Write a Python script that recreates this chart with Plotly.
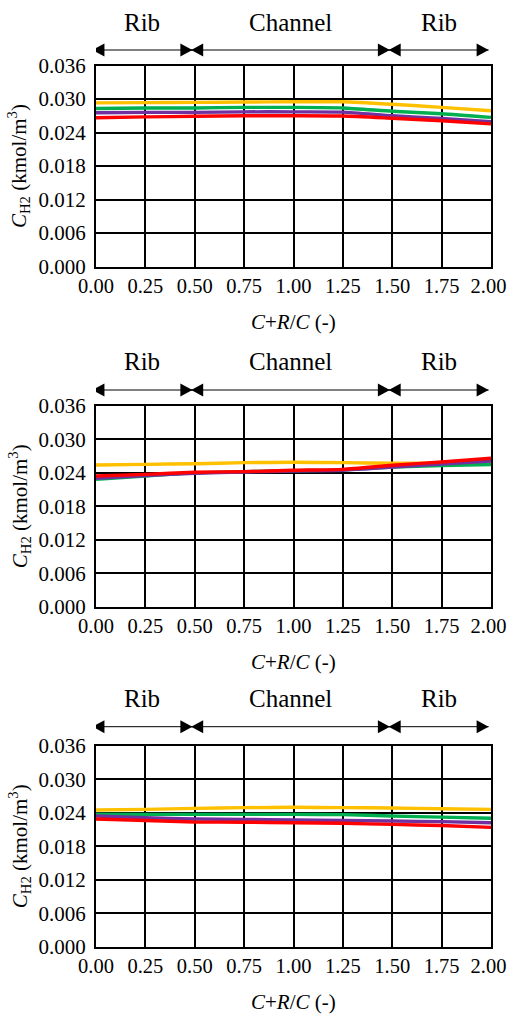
import plotly.graph_objects as go

# Dimensionless position across rib / channel / rib
x_pos = [0.0, 0.25, 0.5, 0.75, 1.0, 1.25, 1.5, 1.75, 2.0]

# Hydrogen concentration (kmol/m3), one dict per panel (top -> bottom)
panel1 = {
    "case_1": [0.0293, 0.02935, 0.0294, 0.02945, 0.0295, 0.0295, 0.02905, 0.0285, 0.0279],
    "case_2": [0.0283, 0.0284, 0.0284, 0.0285, 0.0285, 0.0284, 0.0278, 0.02735, 0.0267],
    "case_3": [0.02755, 0.0276, 0.0276, 0.0277, 0.0277, 0.02765, 0.0270, 0.0265, 0.02595],
    "case_4": [0.02665, 0.0268, 0.0269, 0.0270, 0.0270, 0.02695, 0.02655, 0.0261, 0.02555],
}
panel2 = {
    "case_1": [0.02538, 0.0255, 0.0256, 0.0258, 0.02586, 0.0258, 0.02568, 0.0257, 0.0257],
    "case_2": [0.02282, 0.0234, 0.02396, 0.0242, 0.02437, 0.0245, 0.0250, 0.0253, 0.02547],
    "case_3": [0.0230, 0.0235, 0.0239, 0.0241, 0.0243, 0.02445, 0.0250, 0.02556, 0.0261],
    "case_4": [0.02341, 0.0237, 0.02407, 0.0242, 0.02443, 0.0246, 0.02533, 0.02592, 0.02658],
}
panel3 = {
    "case_1": [0.02448, 0.0246, 0.02478, 0.0249, 0.02497, 0.0249, 0.02485, 0.0247, 0.0246],
    "case_2": [0.02371, 0.0237, 0.0237, 0.0237, 0.0237, 0.02365, 0.0234, 0.0232, 0.0230],
    "case_3": [0.0234, 0.0231, 0.02287, 0.0228, 0.02269, 0.0226, 0.0225, 0.0224, 0.0222],
    "case_4": [0.02287, 0.0226, 0.02233, 0.0223, 0.0222, 0.0221, 0.0219, 0.0217, 0.02138],
}
panels = [panel1, panel2, panel3]

series_colors = {"case_1": "#FFC000", "case_2": "#00B050", "case_3": "#7030A0", "case_4": "#FF0000"}

# Flow-field regions along the x axis
region_bounds = [0.0, 0.5, 1.5, 2.0]
region_names = ["Rib", "Channel", "Rib"]

y_ticks = [0.000, 0.006, 0.012, 0.018, 0.024, 0.030, 0.036]
x_ticks = [0.00, 0.25, 0.50, 0.75, 1.00, 1.25, 1.50, 1.75, 2.00]

W, H = 507, 1014
FONT = "Liberation Serif, Times New Roman, serif"

# plot-area geometry in pixels
plot_left, plot_right = 96, 491
panel_tops = [65.5, 405.7, 745.7]
panel_h = 201.0
arrow_gap = [15.5, 15.7, 19.0]
label_gap = [43.5, 44.0, 47.7]

# x tick text; the last label is nudged inward so it stays inside the page
x_ticktext = [f"{v:.2f}" for v in x_ticks]
x_ticktext[-1] = x_ticktext[-1] + "&nbsp;"


def py(px):
    return 1 - px / H


fig = go.Figure()
shapes = []
annotations = []

for i, data in enumerate(panels):
    n = i + 1
    xa = "x" if n == 1 else f"x{n}"
    ya = "y" if n == 1 else f"y{n}"
    for name, vals in data.items():
        fig.add_trace(go.Scatter(
            x=x_pos, y=vals, mode="lines", name=name, showlegend=False,
            line=dict(color=series_colors[name], width=3.4, shape="spline", smoothing=0.6),
            xaxis=xa, yaxis=ya,
        ))
    top = panel_tops[i]
    bottom = top + panel_h
    axis_common = dict(
        showline=True, linecolor="black", linewidth=2, mirror=True,
        showgrid=True, gridcolor="black", gridwidth=1.6, zeroline=False,
        ticks="", automargin=False, ticklabeloverflow="allow",
    )
    fig.update_layout({
        ("xaxis" if n == 1 else f"xaxis{n}"): dict(
            domain=[plot_left / W, plot_right / W], anchor=ya, range=[0, 2],
            tickvals=x_ticks, ticktext=x_ticktext,
            tickfont=dict(family=FONT, size=20.5, color="black"), **axis_common),
        ("yaxis" if n == 1 else f"yaxis{n}"): dict(
            domain=[py(bottom), py(top)], anchor=xa, range=[0, 0.036],
            tickvals=y_ticks, tickformat=".3f", ticklabelstandoff=4,
            tickfont=dict(family=FONT, size=21, color="black"), **axis_common),
    })

    # region arrows above the plot
    ay = py(top - arrow_gap[i])
    for k in range(len(region_names)):
        x0 = region_bounds[k] - 0.018
        x1 = region_bounds[k + 1] - 0.012
        shapes.append(dict(type="line", xref=xa, yref="paper", x0=x0, x1=x1, y0=ay, y1=ay,
                           line=dict(color="black", width=1)))
        shapes.append(dict(type="path", xref=xa, yref="paper", xsizemode="pixel", ysizemode="pixel",
                           xanchor=x0, yanchor=ay, path="M0,0 L12,6.5 L12,-6.5 Z",
                           fillcolor="black", line=dict(width=0)))
        shapes.append(dict(type="path", xref=xa, yref="paper", xsizemode="pixel", ysizemode="pixel",
                           xanchor=x1, yanchor=ay, path="M0,0 L-12,6.5 L-12,-6.5 Z",
                           fillcolor="black", line=dict(width=0)))
        annotations.append(dict(text=region_names[k], xref=xa, yref="paper",
                                x=(x0 + x1) / 2, y=py(top - label_gap[i]),
                                showarrow=False, xanchor="center", yanchor="middle",
                                font=dict(family=FONT, size=25, color="black")))

    # axis titles
    annotations.append(dict(text="<i>C</i>+<i>R</i>/<i>C</i> (-)", xref="paper", yref="paper",
                            x=(plot_left + plot_right) / 2 / W, y=py(bottom + 55.5),
                            showarrow=False, xanchor="center", yanchor="middle",
                            font=dict(family=FONT, size=21, color="black")))
    annotations.append(dict(text="<i>C</i><sub>H2</sub> (kmol/m<sup>3</sup>)", xref="paper", yref="paper",
                            x=19 / W, y=py(top + panel_h / 2), textangle=-90,
                            showarrow=False, xanchor="center", yanchor="middle",
                            font=dict(family=FONT, size=21, color="black")))

fig.update_layout(
    font=dict(family=FONT, size=21, color="black"),
    width=W, height=H, margin=dict(l=0, r=0, t=0, b=0, autoexpand=False),
    paper_bgcolor="white", plot_bgcolor="white",
    shapes=shapes, annotations=annotations, showlegend=False,
)

fig.write_html("out.html")
